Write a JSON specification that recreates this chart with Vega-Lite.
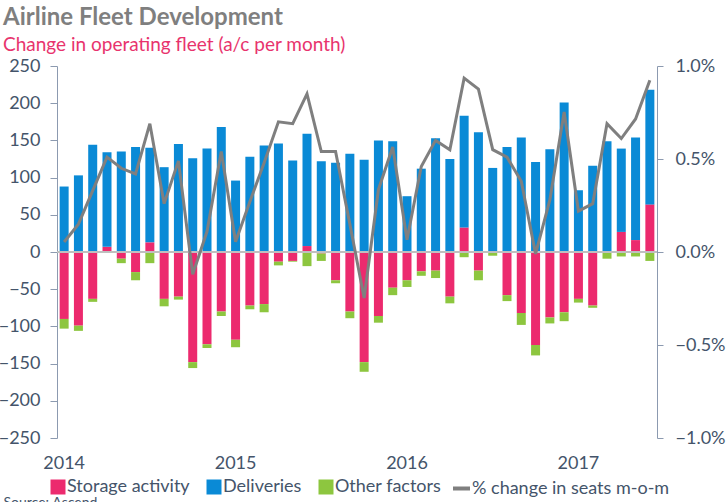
{
  "$schema": "https://vega.github.io/schema/vega-lite/v6.json",
  "width": 600,
  "height": 372,
  "autosize": {"type": "none"},
  "padding": {"left": 57, "top": 66, "right": 70, "bottom": 64},
  "background": "white",
  "title": {
    "text": "Airline Fleet Development",
    "subtitle": "Change in operating fleet (a/c per month)",
    "anchor": "start",
    "frame": "group",
    "dx": -54,
    "offset": 2,
    "font": "Lato",
    "fontSize": 24,
    "fontWeight": "bold",
    "color": "#7F7F7F",
    "subtitleFont": "Lato",
    "subtitleFontSize": 19,
    "subtitleColor": "#E8336D",
    "subtitlePadding": 6
  },
  "data": {
    "values": [
      {"m": "2014-01", "Storage activity": -90, "Deliveries": 88, "Other factors": -13, "pct": 0.00054},
      {"m": "2014-02", "Storage activity": -99, "Deliveries": 103, "Other factors": -7, "pct": 0.0015},
      {"m": "2014-03", "Storage activity": -63, "Deliveries": 144, "Other factors": -4, "pct": 0.0033},
      {"m": "2014-04", "Storage activity": 7, "Deliveries": 127, "Other factors": -1, "pct": 0.0051},
      {"m": "2014-05", "Storage activity": -9, "Deliveries": 135, "Other factors": -6, "pct": 0.0045},
      {"m": "2014-06", "Storage activity": -27, "Deliveries": 141, "Other factors": -11, "pct": 0.0042},
      {"m": "2014-07", "Storage activity": 13, "Deliveries": 127, "Other factors": -15, "pct": 0.0069},
      {"m": "2014-08", "Storage activity": -63, "Deliveries": 114, "Other factors": -10, "pct": 0.0026},
      {"m": "2014-09", "Storage activity": -60, "Deliveries": 145, "Other factors": -4, "pct": 0.0049},
      {"m": "2014-10", "Storage activity": -148, "Deliveries": 126, "Other factors": -8, "pct": -0.0012},
      {"m": "2014-11", "Storage activity": -124, "Deliveries": 139, "Other factors": -5, "pct": 0.0011},
      {"m": "2014-12", "Storage activity": -80, "Deliveries": 168, "Other factors": -6, "pct": 0.0054},
      {"m": "2015-01", "Storage activity": -118, "Deliveries": 96, "Other factors": -10, "pct": 0.00055},
      {"m": "2015-02", "Storage activity": -72, "Deliveries": 128, "Other factors": -5, "pct": 0.0027},
      {"m": "2015-03", "Storage activity": -70, "Deliveries": 143, "Other factors": -11, "pct": 0.0048},
      {"m": "2015-04", "Storage activity": -13, "Deliveries": 146, "Other factors": -5, "pct": 0.0070},
      {"m": "2015-05", "Storage activity": -12, "Deliveries": 123, "Other factors": -1, "pct": 0.0069},
      {"m": "2015-06", "Storage activity": 8, "Deliveries": 151, "Other factors": -19, "pct": 0.0085},
      {"m": "2015-07", "Storage activity": -2, "Deliveries": 122, "Other factors": -10, "pct": 0.0054},
      {"m": "2015-08", "Storage activity": -38, "Deliveries": 120, "Other factors": -4, "pct": 0.0054},
      {"m": "2015-09", "Storage activity": -80, "Deliveries": 132, "Other factors": -9, "pct": 0.0015},
      {"m": "2015-10", "Storage activity": -148, "Deliveries": 124, "Other factors": -13, "pct": -0.00247},
      {"m": "2015-11", "Storage activity": -86, "Deliveries": 150, "Other factors": -9, "pct": 0.00335},
      {"m": "2015-12", "Storage activity": -48, "Deliveries": 149, "Other factors": -10, "pct": 0.00565},
      {"m": "2016-01", "Storage activity": -38, "Deliveries": 75, "Other factors": -9, "pct": 0.00066},
      {"m": "2016-02", "Storage activity": -26, "Deliveries": 112, "Other factors": -6, "pct": 0.0046},
      {"m": "2016-03", "Storage activity": -25, "Deliveries": 153, "Other factors": -10, "pct": 0.0060},
      {"m": "2016-04", "Storage activity": -60, "Deliveries": 125, "Other factors": -9, "pct": 0.0055},
      {"m": "2016-05", "Storage activity": 33, "Deliveries": 150, "Other factors": -7, "pct": 0.00935},
      {"m": "2016-06", "Storage activity": -25, "Deliveries": 161, "Other factors": -13, "pct": 0.00876},
      {"m": "2016-07", "Storage activity": -1, "Deliveries": 113, "Other factors": -4, "pct": 0.0055},
      {"m": "2016-08", "Storage activity": -58, "Deliveries": 141, "Other factors": -8, "pct": 0.0051},
      {"m": "2016-09", "Storage activity": -82, "Deliveries": 154, "Other factors": -16, "pct": 0.0038},
      {"m": "2016-10", "Storage activity": -125, "Deliveries": 121, "Other factors": -14, "pct": -0.0001},
      {"m": "2016-11", "Storage activity": -88, "Deliveries": 138, "Other factors": -8, "pct": 0.0028},
      {"m": "2016-12", "Storage activity": -81, "Deliveries": 201, "Other factors": -12, "pct": 0.00753},
      {"m": "2017-01", "Storage activity": -63, "Deliveries": 83, "Other factors": -5, "pct": 0.0022},
      {"m": "2017-02", "Storage activity": -72, "Deliveries": 116, "Other factors": -3, "pct": 0.0026},
      {"m": "2017-03", "Storage activity": 0, "Deliveries": 149, "Other factors": -9, "pct": 0.0069},
      {"m": "2017-04", "Storage activity": 27, "Deliveries": 112, "Other factors": -6, "pct": 0.0061},
      {"m": "2017-05", "Storage activity": 16, "Deliveries": 138, "Other factors": -6, "pct": 0.00715},
      {"m": "2017-06", "Storage activity": 64, "Deliveries": 154, "Other factors": -12, "pct": 0.00923}
    ]
  },
  "layer": [
    {
      "transform": [
        {"fold": ["Storage activity", "Deliveries", "Other factors"], "as": ["series", "value"]}
      ],
      "mark": {"type": "bar"},
      "encoding": {
        "x": {
          "field": "m",
          "type": "ordinal",
          "scale": {"paddingInner": 0.37, "paddingOuter": 0.185},
          "axis": {
            "domain": false,
            "ticks": false,
            "labelExpr": "slice(datum.value, 5) == '01' ? slice(datum.value, 0, 4) : ''",
            "labelAngle": 0,
            "labelPadding": 16,
            "labelFont": "Lato",
            "labelFontSize": 18,
            "labelColor": "#44546A",
            "title": "Source: Ascend",
            "titleFont": "Lato",
            "titleFontSize": 14,
            "titleFontWeight": "normal",
            "titleColor": "#44546A",
            "titleAnchor": "start",
            "titleAlign": "left",
            "titleBaseline": "top",
            "titleX": -54,
            "titleY": 57
          }
        },
        "y": {
          "field": "value",
          "type": "quantitative",
          "scale": {"domain": [-250, 250], "nice": false},
          "axis": {
            "values": [-250, -200, -150, -100, -50, 0, 50, 100, 150, 200, 250],
            "grid": false,
            "title": null,
            "domainColor": "#8C9AB0",
            "tickColor": "#8C9AB0",
            "tickSize": 7,
            "labelPadding": 10,
            "labelFont": "Lato",
            "labelFontSize": 18,
            "labelColor": "#44546A"
          }
        },
        "color": {
          "field": "series",
          "type": "nominal",
          "scale": {
            "domain": ["Storage activity", "Deliveries", "Other factors"],
            "range": ["#EC2A6E", "#0A8AD6", "#8DC63F"]
          },
          "legend": {
            "orient": "none",
            "legendX": -8,
            "legendY": 412,
            "direction": "horizontal",
            "title": null,
            "symbolType": "square",
            "symbolSize": 225,
            "symbolStrokeWidth": 0,
            "labelFont": "Lato",
            "labelFontSize": 18,
            "labelColor": "#44546A",
            "labelOffset": 0,
            "labelLimit": 300,
            "columnPadding": 15
          }
        },
        "order": {"field": "series", "type": "nominal", "sort": "descending"}
      }
    },
    {
      "mark": {"type": "rule", "color": "#BFBFBF", "strokeWidth": 1},
      "encoding": {
        "y": {"datum": 0, "type": "quantitative", "scale": {"domain": [-250, 250], "nice": false}, "axis": null}
      }
    },
    {
      "mark": {"type": "line", "strokeWidth": 3},
      "encoding": {
        "x": {"field": "m", "type": "ordinal"},
        "y": {
          "field": "pct",
          "type": "quantitative",
          "scale": {"domain": [-0.01, 0.01], "nice": false},
          "axis": {
            "orient": "right",
            "values": [-0.01, -0.005, 0, 0.005, 0.01],
            "format": ".1%",
            "grid": false,
            "title": null,
            "domainColor": "#8C9AB0",
            "tickColor": "#8C9AB0",
            "tickSize": 6,
            "labelPadding": 12,
            "labelFont": "Lato",
            "labelFontSize": 18,
            "labelColor": "#44546A"
          }
        },
        "stroke": {
          "datum": "% change in seats m-o-m",
          "type": "nominal",
          "scale": {"range": ["#7F7F7F"]},
          "legend": {
            "orient": "none",
            "legendX": 394,
            "legendY": 412,
            "title": null,
            "symbolType": "stroke",
            "symbolSize": 289,
            "symbolStrokeWidth": 4,
            "labelFont": "Lato",
            "labelFontSize": 18,
            "labelColor": "#44546A",
            "labelOffset": 0,
            "labelLimit": 300
          }
        }
      }
    }
  ],
  "resolve": {"scale": {"y": "independent"}},
  "config": {
    "view": {"stroke": null}
  }
}
